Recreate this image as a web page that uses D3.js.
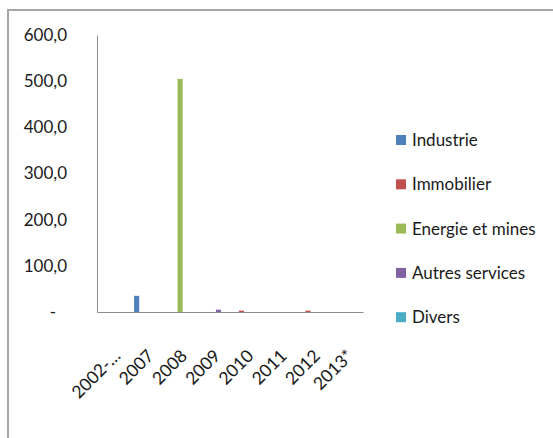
<!DOCTYPE html>
<html><head><meta charset="utf-8">
<script src="https://cdn.jsdelivr.net/npm/d3@7"></script>
<style>body{margin:0;background:#fff}svg{display:block}</style>
</head><body>
<script>
const categories = ["2002-…","2007","2008","2009","2010","2011","2012","2013*"];
const seriesNames = ["Industrie","Immobilier","Energie et mines","Autres services","Divers"];
const industrie   = [0, 35, 0, 0, 0, 0, 0, 0];
const immobilier  = [0, 0, 0, 0, 3, 0, 3, 0];
const energie     = [0, 0, 505, 0, 0, 0, 0, 0];
const autres      = [0, 0, 0, 5, 0, 0, 0, 0];
const divers      = [0, 0, 0, 0, 0, 0, 0, 0];
const yTicks = [0, 100, 200, 300, 400, 500, 600];
const colors = ["#4F81BD","#C0504D","#9BBB59","#8064A2","#4BACC6"];

const seriesValues = [industrie, immobilier, energie, autres, divers];
const W = 553, H = 438;
const svg = d3.select("body").append("svg").attr("width", W).attr("height", H);
const font = "Lato, 'Open Sans', sans-serif";

// outer frame
svg.append("path").attr("d", `M8,${H} L8,10 L${W},10`).attr("fill","none")
  .attr("stroke","#a6a6a6").attr("stroke-width",2);

const x0 = d3.scaleBand().domain(categories).range([97, 363]).paddingInner(0).paddingOuter(0);
const x1 = d3.scaleBand().domain(seriesNames).range([0, x0.bandwidth()])
  .paddingInner(0).paddingOuter(0.75);
const y = d3.scaleLinear().domain([0, 600]).range([312, 35]);

// y axis
const ya = svg.append("g").attr("transform","translate(97,0)")
  .call(d3.axisLeft(y).tickValues(yTicks).tickSize(0).tickPadding(30)
    .tickFormat(d => d === 0 ? "-" : d3.format(".1f")(d).replace(".", ",")));
ya.select(".domain").attr("stroke","#8c8c8c");
ya.selectAll("text").attr("font-family", font).attr("font-size", 17).attr("fill","#1a1a1a")
  .filter(d => d === 0).attr("dx", -11);

// bars
const g = svg.append("g");
seriesValues.forEach((vals, si) => {
  g.selectAll(null).data(categories.map((c, i) => ({c, v: vals[i]})).filter(d => d.v > 0))
    .enter().append("rect")
    .attr("x", d => x0(d.c) + x1(seriesNames[si]))
    .attr("width", x1.bandwidth())
    .attr("y", d => y(d.v))
    .attr("height", d => y(0) - y(d.v))
    .attr("fill", colors[si]);
});

// x axis
const xa = svg.append("g").attr("transform","translate(0,312)")
  .call(d3.axisBottom(x0).tickSize(0).tickPadding(0));
xa.select(".domain").attr("stroke","#8c8c8c");
xa.selectAll("text").attr("font-family", font).attr("font-size", 17.5).attr("fill","#1a1a1a")
  .attr("text-anchor","end").attr("dy", 0)
  .attr("transform","translate(8,45) rotate(-45)");

// legend
const lg = svg.append("g");
seriesNames.forEach((n, i) => {
  const cy = 140 + i * 44.3;
  lg.append("rect").attr("x", 396).attr("y", cy - 5).attr("width", 10).attr("height", 10).attr("fill", colors[i]);
  lg.append("text").attr("x", 412).attr("y", cy).attr("dy","0.35em")
    .attr("font-family", font).attr("font-size", 17).attr("fill","#1a1a1a").text(n);
});
</script>
</body></html>
